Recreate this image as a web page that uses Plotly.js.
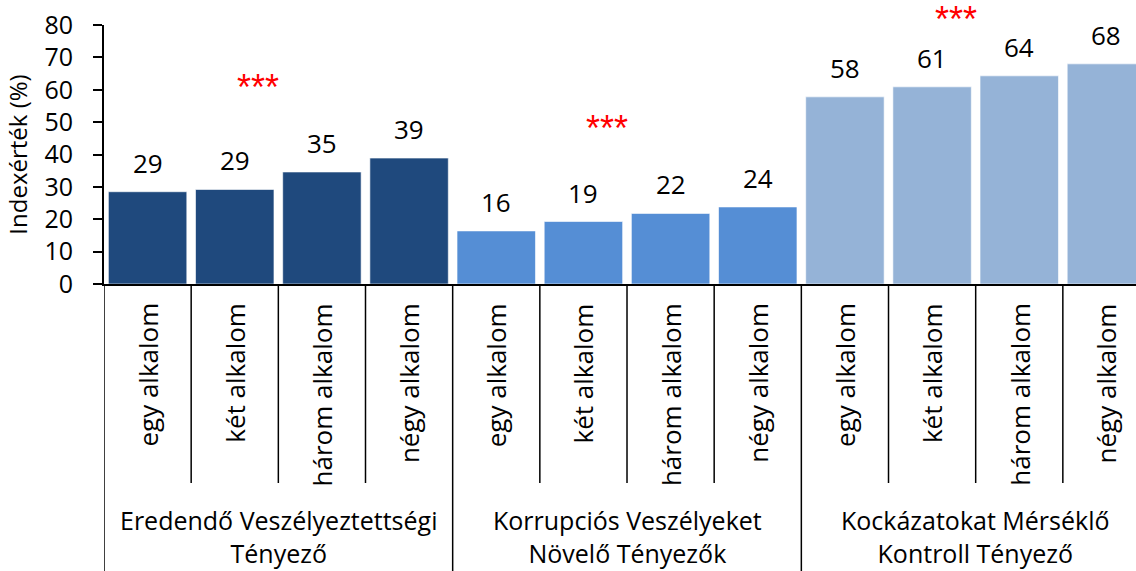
<!DOCTYPE html>
<html>
<head>
<meta charset="utf-8">
<script src="https://cdn.plot.ly/plotly-3.0.1.min.js"></script>
<style>html,body{margin:0;padding:0;background:#fff;}#chart{width:1136px;height:571px;}</style>
</head>
<body>
<div id="chart"></div>
<script>
// ---- data ----
const categories = ['egy alkalom', 'két alkalom', 'három alkalom', 'négy alkalom'];
const groups = ['Eredendő Veszélyeztettségi<br>Tényező', 'Korrupciós Veszélyeket<br>Növelő Tényezők', 'Kockázatokat Mérséklő<br>Kontroll Tényező'];
const valuesEredendo = [28.5, 29.2, 34.6, 38.9];
const valuesKorrupcios = [16.4, 19.3, 21.8, 23.8];
const valuesKockazat = [57.8, 60.9, 64.3, 68.0];
const labelsEredendo = ['29', '29', '35', '39'];
const labelsKorrupcios = ['16', '19', '22', '24'];
const labelsKockazat = ['58', '61', '64', '68'];
const significance = ['***', '***', '***'];
const yTickVals = [0, 10, 20, 30, 40, 50, 60, 70, 80];

// ---- styling / layout ----
const groupValues = [valuesEredendo, valuesKorrupcios, valuesKockazat];
const groupLabels = [labelsEredendo, labelsKorrupcios, labelsKockazat];
const groupColors = ['#1F497D', '#558ED5', '#95B3D7'];
const sigPx = [87, 128, 19];
const FONT = '"Open Sans", sans-serif';
const FS = 26;
const nCat = categories.length;

const traces = [];
const annotations = [];
const shapes = [];

// plot area: top 25px, bottom 284px (height 259)
const plotTop = 25, plotBottom = 284, plotH = plotBottom - plotTop;
const px2paper = (py) => (plotBottom - py) / plotH;

groups.forEach((g, gi) => {
  const xs = categories.map((c, ci) => gi * nCat + ci);
  traces.push({
    type: 'bar',
    x: xs,
    y: groupValues[gi],
    width: 0.9,
    marker: {color: groupColors[gi], line: {color: 'rgba(255,255,255,0.6)', width: 1}},
    hoverinfo: 'skip',
    showlegend: false,
    cliponaxis: true
  });
  xs.forEach((x, k) => {
    annotations.push({
      x: x, y: groupValues[gi][k], xref: 'x', yref: 'y',
      text: groupLabels[gi][k], showarrow: false,
      yanchor: 'bottom', xanchor: 'center', yshift: 9,
      font: {family: FONT, size: FS, color: '#000'}
    });
    annotations.push({
      x: x, y: px2paper(301), xref: 'x', yref: 'paper',
      text: categories[k], showarrow: false, textangle: -90,
      yanchor: 'top', xanchor: 'center',
      font: {family: FONT, size: FS, color: '#000'}
    });
  });
  annotations.push({
    x: gi * nCat + (nCat - 1) / 2, y: px2paper(536), xref: 'x', yref: 'paper',
    text: groups[gi], showarrow: false, yanchor: 'middle', xanchor: 'center',
    borderpad: 0,
    font: {family: FONT, size: 25, color: '#000'}
  });
  annotations.push({
    x: gi * nCat + (nCat - 1) / 2, y: px2paper(sigPx[gi]), xref: 'x', yref: 'paper',
    text: significance[gi], showarrow: false, xshift: -20,
    yanchor: 'middle', xanchor: 'center',
    font: {family: '"Liberation Sans", sans-serif', size: 36, color: '#FF0000'}
  });
});

const total = groups.length * nCat;
for (let k = 0; k <= total; k++) {
  const isGroup = (k % nCat === 0);
  shapes.push({
    type: 'line', xref: 'x', yref: 'paper',
    x0: k - 0.5, x1: k - 0.5,
    y0: 0, y1: px2paper(isGroup ? 575 : 483),
    line: {color: '#000', width: 1.5}
  });
}

const layout = {
  width: 1136, height: 571,
  margin: {l: 104, r: 0, t: plotTop, b: 571 - plotBottom, pad: 0},
  paper_bgcolor: '#fff', plot_bgcolor: '#fff',
  bargap: 0,
  xaxis: {
    range: [-0.5, total - 0.5 - 14 / 87.1],
    showticklabels: false, ticks: '', showgrid: false, zeroline: false,
    showline: true, linecolor: '#000', linewidth: 2, fixedrange: true
  },
  yaxis: {
    range: [0, 80], tickvals: yTickVals, ticks: 'outside', ticklen: 9, tickwidth: 2,
    tickcolor: '#000', showline: true, linecolor: '#000', linewidth: 2,
    showgrid: false, zeroline: false, ticklabelstandoff: 15,
    tickfont: {family: FONT, size: 25, color: '#000'},
    title: {text: 'Indexérték (%)', font: {family: FONT, size: 24, color: '#000'}, standoff: 10},
    fixedrange: true
  },
  annotations: annotations,
  shapes: shapes
};

Plotly.newPlot('chart', traces, layout, {displayModeBar: false, staticPlot: true});
</script>
</body>
</html>
